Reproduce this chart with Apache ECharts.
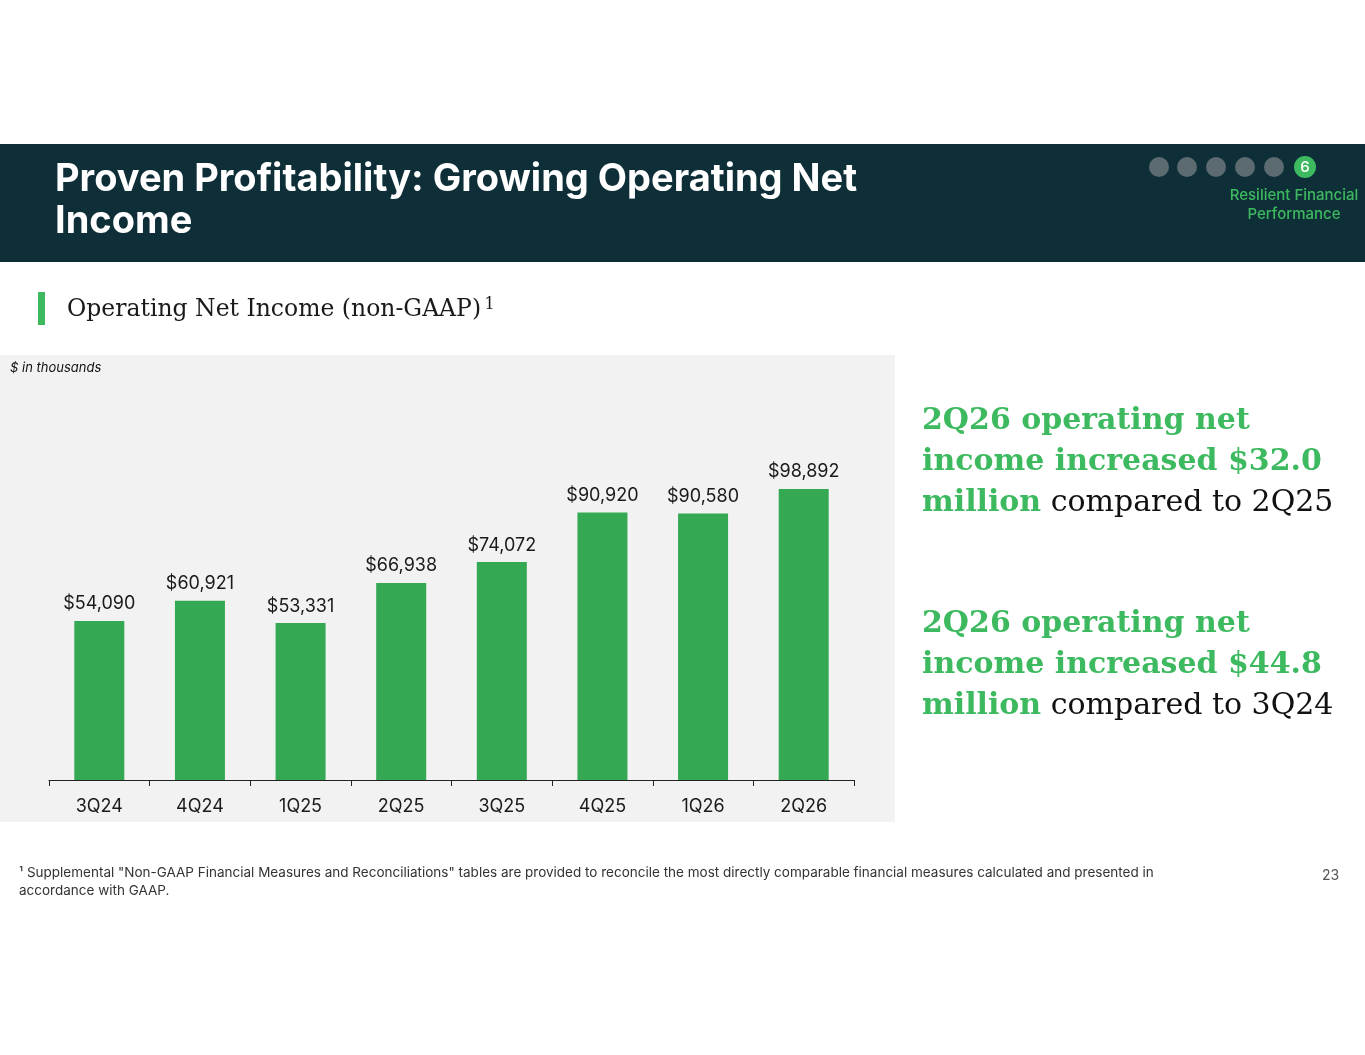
<!DOCTYPE html>
<html>
<head>
<meta charset="utf-8">
<script src="https://cdn.jsdelivr.net/npm/echarts@6/dist/echarts.min.js"></script>
<style>
  html, body { margin: 0; padding: 0; background: #fff; }
  #main { width: 1365px; height: 1055px; }
</style>
</head>
<body>
<div id="main"></div>
<script>
// data
var quarters = ['3Q24', '4Q24', '1Q25', '2Q25', '3Q25', '4Q25', '1Q26', '2Q26'];
var netIncome = [54090, 60921, 53331, 66938, 74072, 90920, 90580, 98892];

var green = '#34a853';
var textGreen = '#3dba5f';
var navy = '#0f2f38';
var serif = '"DejaVu Serif", serif';
var sans = 'Inter, Lato, sans-serif';

var chart = echarts.init(document.getElementById('main'));

// dots in the header (progress markers)
var dots = [];
var dotX = [1159, 1187, 1216, 1245, 1274];
dotX.forEach(function (x) {
  dots.push({ type: 'circle', shape: { cx: x, cy: 167, r: 10 }, style: { fill: '#5b6b70' } });
});
dots.push({ type: 'circle', shape: { cx: 1305, cy: 167, r: 11 }, style: { fill: '#3dba5f' } });
dots.push({ type: 'text', x: 1305, y: 167, style: { text: '6', fill: '#fff', font: '500 15px ' + sans, align: 'center', verticalAlign: 'middle' } });

var rightRich = {
  g: { font: 'bold 30px ' + serif, fill: textGreen, lineHeight: 41 },
  b: { font: '30px ' + serif, fill: '#111', lineHeight: 41 }
};

var option = {
  animation: false,
  backgroundColor: '#fff',
  graphic: [
    // header band
    { type: 'rect', shape: { x: 0, y: 144, width: 1365, height: 118 }, style: { fill: navy }, z: 0 },
    { type: 'text', left: 55, top: 159, style: { text: 'Proven Profitability: Growing Operating Net\nIncome', fill: '#fff', font: 'bold 38px ' + sans, lineHeight: 42 } },
    { type: 'text', x: 1294, y: 186, style: { text: 'Resilient Financial\nPerformance', fill: textGreen, font: '500 15px ' + sans, align: 'center', lineHeight: 19 } },
    // subtitle
    { type: 'rect', shape: { x: 38, y: 292, width: 7, height: 33 }, style: { fill: '#3dba5f' } },
    { type: 'text', x: 67, y: 297, style: {
      text: '{t|Operating Net Income (non-GAAP)} {s|1}',
      rich: { t: { font: '23.5px ' + serif, fill: '#1a1a1a' }, s: { font: '16px ' + serif, fill: '#1a1a1a', verticalAlign: 'top', padding: [0, 0, 10, 0] } }
    } },
    // chart panel
    { type: 'rect', shape: { x: 0, y: 355, width: 895, height: 467 }, style: { fill: '#f2f2f2' }, z: -1 },
    { type: 'text', x: 10, y: 362, style: { text: '$ in thousands', fill: '#111', font: 'italic 13px ' + sans } },
    // right call-outs
    { type: 'text', x: 922, y: 401, style: {
      text: '{g|2Q26 operating net}\n{g|income increased $32.0}\n{g|million}{b| compared to 2Q25}',
      rich: rightRich
    } },
    { type: 'text', x: 922, y: 604, style: {
      text: '{g|2Q26 operating net}\n{g|income increased $44.8}\n{g|million}{b| compared to 3Q24}',
      rich: rightRich
    } },
    // footnote and page number
    { type: 'text', x: 19, y: 864, style: {
      text: '\u00b9 Supplemental "Non-GAAP Financial Measures and Reconciliations" tables are provided to reconcile the most directly comparable financial measures calculated and presented in\naccordance with GAAP.',
      fill: '#333', font: '13.5px ' + sans, lineHeight: 18
    } },
    { type: 'text', x: 1322, y: 869, style: { text: '23', fill: '#555', font: '14px ' + sans } }
  ].concat(dots),
  grid: { left: 49, right: 511, top: 427, bottom: 275 },
  xAxis: {
    type: 'category',
    data: quarters,
    axisLine: { lineStyle: { color: '#222', width: 1 } },
    axisTick: { show: true, length: 6, lineStyle: { color: '#222' } },
    axisLabel: { color: '#1a1a1a', fontSize: 18, fontFamily: sans, margin: 18 }
  },
  yAxis: {
    type: 'value',
    min: 0,
    max: 120000,
    show: false,
    splitLine: { show: false }
  },
  series: [{
    type: 'bar',
    data: netIncome,
    barWidth: 50,
    itemStyle: { color: green },
    label: {
      show: true,
      position: 'top',
      distance: 8,
      color: '#1a1a1a',
      fontSize: 18,
      fontFamily: sans,
      formatter: function (p) { return '$' + p.value.toLocaleString('en-US'); }
    }
  }]
};

chart.setOption(option);
</script>
</body>
</html>
